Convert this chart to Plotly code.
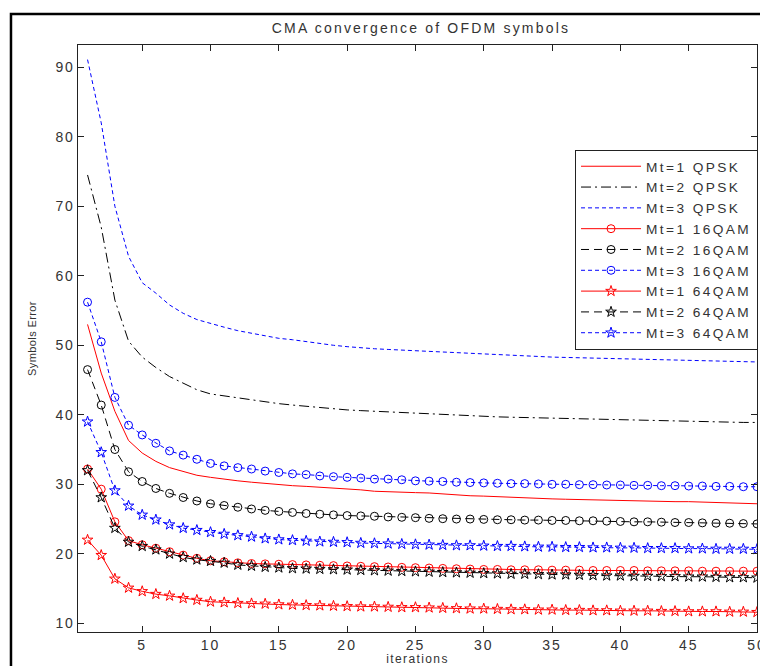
import plotly.graph_objects as go

iterations = list(range(1, 51))

mt1_qpsk = [53.0, 46.0, 40.5, 36.3, 34.5, 33.3, 32.4, 31.8, 31.3, 31.0,
            30.7, 30.5, 30.3, 30.1, 29.95, 29.8, 29.7, 29.6, 29.5, 29.4,
            29.2, 29.0, 28.9, 28.85, 28.8, 28.75, 28.6, 28.4, 28.35, 28.3,
            28.2, 28.1, 28.0, 27.95, 27.9, 27.85, 27.8, 27.7, 27.65, 27.6,
            27.6, 27.55, 27.55, 27.5, 27.5, 27.45, 27.4, 27.3, 27.25, 27.2]
mt2_qpsk = [74.5, 67.0, 56.5, 50.6, 48.3, 46.8, 45.5, 44.5, 43.6, 43.0,
            42.7, 42.4, 42.1, 41.9, 41.6, 41.4, 41.2, 41.0, 40.8, 40.7,
            40.6, 40.5, 40.4, 40.3, 40.2, 40.1, 40.0, 39.9, 39.8, 39.75,
            39.7, 39.65, 39.6, 39.55, 39.5, 39.45, 39.4, 39.35, 39.3, 39.25,
            39.2, 39.15, 39.1, 39.05, 39.0, 39.0, 38.95, 38.9, 38.9, 38.9]
mt3_qpsk = [91.1, 82.0, 70.0, 62.8, 59.0, 57.5, 55.8, 54.6, 53.7, 53.1,
            52.6, 52.1, 51.7, 51.3, 51.0, 50.8, 50.5, 50.2, 50.0, 49.8,
            49.6, 49.5, 49.4, 49.3, 49.2, 49.1, 49.0, 48.9, 48.8, 48.7,
            48.6, 48.5, 48.45, 48.4, 48.3, 48.25, 48.2, 48.1, 48.05, 48.0,
            47.95, 47.9, 47.9, 47.8, 47.8, 47.7, 47.7, 47.7, 47.6, 47.6]
mt1_16qam = [32.2, 29.3, 24.6, 21.9, 21.3, 20.8, 20.3, 19.8, 19.35, 19.0,
             18.85, 18.7, 18.6, 18.55, 18.5, 18.45, 18.4, 18.35, 18.3, 18.25,
             18.2, 18.15, 18.1, 18.05, 18.0, 17.95, 17.9, 17.85, 17.8, 17.75,
             17.75, 17.7, 17.7, 17.7, 17.65, 17.65, 17.65, 17.6, 17.6, 17.6,
             17.6, 17.55, 17.55, 17.55, 17.55, 17.5, 17.5, 17.5, 17.5, 17.5]
mt2_16qam = [46.5, 41.4, 35.0, 31.8, 30.4, 29.4, 28.7, 28.1, 27.6, 27.2,
             26.95, 26.7, 26.45, 26.25, 26.1, 25.95, 25.8, 25.7, 25.6, 25.5,
             25.45, 25.4, 25.3, 25.25, 25.2, 25.1, 25.05, 25.0, 25.0, 24.95,
             24.9, 24.9, 24.85, 24.85, 24.8, 24.8, 24.75, 24.75, 24.7, 24.65,
             24.6, 24.6, 24.55, 24.5, 24.5, 24.45, 24.4, 24.4, 24.35, 24.3]
mt3_16qam = [56.2, 50.5, 42.5, 38.5, 37.1, 35.9, 34.8, 34.2, 33.6, 33.0,
             32.65, 32.4, 32.2, 31.9, 31.7, 31.5, 31.4, 31.2, 31.1, 31.0,
             30.9, 30.75, 30.75, 30.65, 30.5, 30.45, 30.4, 30.3, 30.25, 30.2,
             30.15, 30.1, 30.1, 30.05, 30.0, 30.0, 29.95, 29.95, 29.9, 29.9,
             29.85, 29.85, 29.8, 29.8, 29.75, 29.75, 29.7, 29.7, 29.65, 29.65]
mt1_64qam = [22.0, 19.8, 16.4, 15.1, 14.6, 14.2, 13.95, 13.6, 13.35, 13.1,
             13.0, 12.9, 12.85, 12.8, 12.7, 12.65, 12.6, 12.55, 12.5, 12.45,
             12.4, 12.4, 12.35, 12.3, 12.3, 12.25, 12.2, 12.15, 12.1, 12.1,
             12.05, 12.0, 12.0, 11.95, 11.95, 11.9, 11.9, 11.85, 11.85, 11.8,
             11.8, 11.8, 11.75, 11.75, 11.7, 11.7, 11.7, 11.65, 11.65, 11.6]
mt2_64qam = [32.0, 28.1, 23.7, 21.7, 21.1, 20.6, 20.0, 19.5, 19.15, 18.95,
             18.7, 18.4, 18.25, 18.1, 18.0, 17.9, 17.85, 17.8, 17.75, 17.7,
             17.65, 17.6, 17.55, 17.5, 17.45, 17.4, 17.35, 17.3, 17.25, 17.2,
             17.15, 17.1, 17.1, 17.05, 17.0, 17.0, 16.95, 16.9, 16.85, 16.85,
             16.8, 16.8, 16.75, 16.75, 16.7, 16.7, 16.65, 16.6, 16.6, 16.55]
mt3_64qam = [39.0, 34.6, 29.1, 26.9, 25.6, 24.9, 24.2, 23.7, 23.4, 23.1,
             22.85, 22.65, 22.45, 22.2, 22.05, 21.95, 21.85, 21.75, 21.7, 21.65,
             21.55, 21.5, 21.45, 21.4, 21.35, 21.3, 21.25, 21.2, 21.2, 21.15,
             21.1, 21.1, 21.05, 21.0, 21.0, 20.95, 20.95, 20.9, 20.9, 20.85,
             20.85, 20.8, 20.8, 20.8, 20.75, 20.75, 20.7, 20.7, 20.7, 20.65]

x_ticks = [5, 10, 15, 20, 25, 30, 35, 40, 45, 50]
y_ticks = [10, 20, 30, 40, 50, 60, 70, 80, 90]
chart_title = "CMA convergence of OFDM symbols"
x_title = "iterations"
y_title = "Symbols Error"

FONT = "Liberation Sans, Arial, sans-serif"
TXT = "#333333"
RED, BLACK, BLUE = "#ff0000", "#000000", "#0000ff"
DOT = "4px,3px"
DASHDOT = "10px,4px,2px,4px"
DASH = "8px,5px"


def spaced(text, px):
    return f'<span style="letter-spacing:{px}px">{text}</span>'


series = [
    ("Mt=1 QPSK", mt1_qpsk, RED, "solid", None),
    ("Mt=2 QPSK", mt2_qpsk, BLACK, DASHDOT, None),
    ("Mt=3 QPSK", mt3_qpsk, BLUE, DOT, None),
    ("Mt=1 16QAM", mt1_16qam, RED, "solid", "circle-open"),
    ("Mt=2 16QAM", mt2_16qam, BLACK, DASH, "circle-open"),
    ("Mt=3 16QAM", mt3_16qam, BLUE, DOT, "circle-open"),
    ("Mt=1 64QAM", mt1_64qam, RED, "solid", "star-open"),
    ("Mt=2 64QAM", mt2_64qam, BLACK, DASH, "star-open"),
    ("Mt=3 64QAM", mt3_64qam, BLUE, DOT, "star-open"),
]

fig = go.Figure()
for name, vals, color, dash, sym in series:
    label = spaced(name, 2.4)
    if sym is None:
        fig.add_trace(go.Scatter(x=iterations, y=vals, name=label, mode="lines",
                                 line=dict(color=color, width=1, dash=dash)))
    else:
        fig.add_trace(go.Scatter(x=iterations, y=vals, name=label, mode="lines+markers",
                                 line=dict(color=color, width=1, dash=dash),
                                 marker=dict(symbol=sym, size=8,
                                             color=color, line=dict(color=color, width=1))))

axis_common = dict(showline=True, linecolor="#222222", linewidth=1, mirror="ticks",
                   ticks="inside", ticklen=6, tickcolor="#222222", showgrid=False,
                   zeroline=False, ticklabeloverflow="allow",
                   tickfont=dict(family=FONT, size=14, color=TXT))

fig.update_layout(
    width=760, height=658,
    margin=dict(l=70, r=1, t=37, b=33),
    paper_bgcolor="white", plot_bgcolor="white",
    font=dict(family=FONT, color=TXT),
    title=dict(text=spaced(chart_title, 2.2), x=0.5434, xanchor="center",
               y=0.9696, yanchor="middle", font=dict(family=FONT, size=14, color=TXT)),
    xaxis=dict(range=[0.3, 50], tickvals=x_ticks,
               ticktext=[spaced(str(v), 2) for v in x_ticks],
               title=dict(text=spaced(x_title, 1.4), font=dict(family=FONT, size=12, color=TXT), standoff=4),
               **axis_common),
    yaxis=dict(range=[8.75, 93.2], tickvals=y_ticks,
               ticktext=[spaced(str(v), 1.5) for v in y_ticks],
               title=dict(text=spaced(y_title, 0.4), font=dict(family=FONT, size=11, color=TXT), standoff=16),
               **axis_common),
    legend=dict(x=1.0015, y=0.8214, xanchor="right", yanchor="top",
                bgcolor="white", bordercolor="#222222", borderwidth=1,
                font=dict(family=FONT, size=13.7, color=TXT),
                itemwidth=60, tracegroupgap=0),
    showlegend=True,
)

fig.add_shape(type="rect", xref="paper", yref="paper",
              x0=-0.0987, y0=-0.2, x1=1.2, y1=1.0527,
              line=dict(color="black", width=2.5), fillcolor="rgba(0,0,0,0)", layer="above")

fig.write_html("out.html")
